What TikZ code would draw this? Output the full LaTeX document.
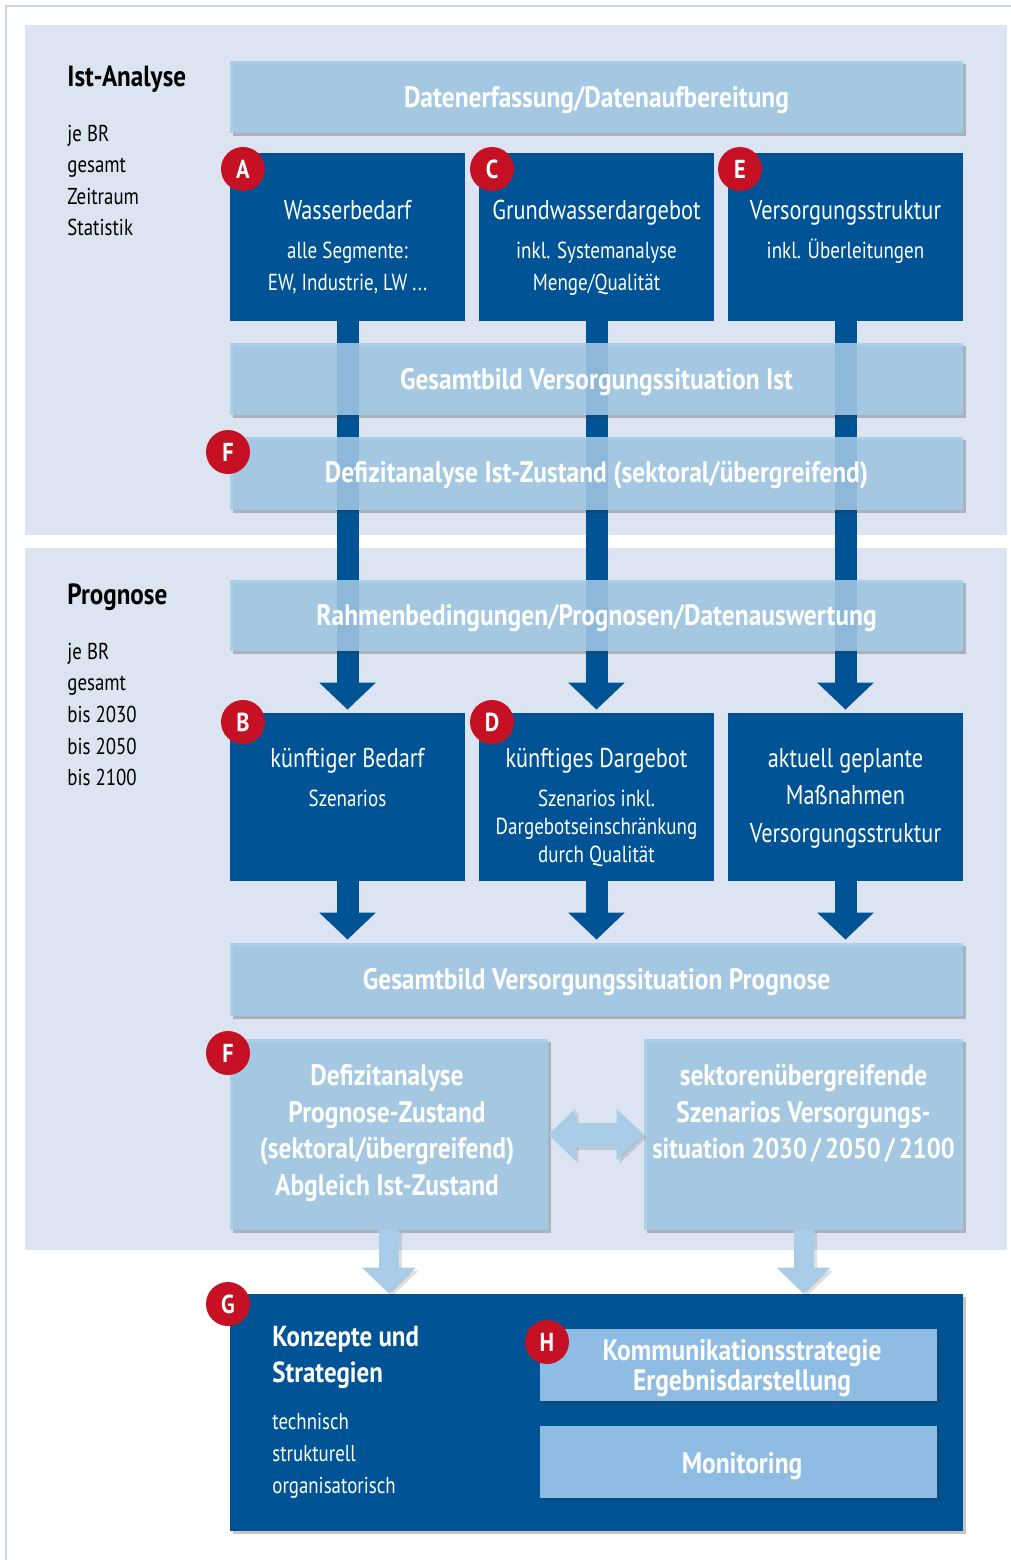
\documentclass[tikz,border=0pt]{standalone}
\usepackage{fontspec}
\setmainfont{PT Sans}[FakeStretch=0.82]
\newfontfamily\bcond{PT Sans}[FakeStretch=0.86]
\usetikzlibrary{arrows.meta,shadows}
\definecolor{secbg}{RGB}{220,228,242}
\definecolor{dblue}{RGB}{0,84,150}
\definecolor{lbox}{RGB}{163,203,233}
\definecolor{larrow}{RGB}{169,205,233}
\definecolor{hbox}{RGB}{143,188,226}
\definecolor{badgered}{RGB}{197,17,35}
\definecolor{rim}{RGB}{200,212,235}
\pgfdeclarelayer{back}
\pgfdeclarelayer{bars}
\pgfsetlayers{back,bars,main}
\begin{document}
\begin{tikzpicture}[x=0.5pt,y=-0.5pt,
  shadowed/.style={drop shadow={shadow xshift=1.5pt,shadow yshift=-1.5pt,opacity=0.28,fill=black!80}},
  darkbox/.style={fill=dblue,draw=none,inner sep=0,minimum width=117.5pt,minimum height=84pt},
  lightbox/.style={fill=lbox,fill opacity=0.86,draw=none,inner sep=0,shadowed},
  widebox/.style={lightbox,minimum width=366.5pt,minimum height=36pt},
  halfbox/.style={lightbox,minimum width=159pt,minimum height=95.5pt},
  innerbox/.style={fill=hbox,draw=none,inner sep=0,minimum width=198.5pt,minimum height=36pt,shadowed},
  badge/.style={circle,fill=badgered,draw=none,inner sep=0,minimum size=22pt,text=white,font=\bcond\bfseries\fontsize{13}{15}\selectfont},
  darkarrow/.style={draw=dblue,line width=11pt,-{Triangle[width=27.5pt,length=13.5pt]},shorten >=1.5pt},
  lightarrow/.style={draw=larrow,line width=10pt,-{Triangle[width=26pt,length=13pt]}},
  dblarrow/.style={draw=larrow,line width=12pt,{Triangle[width=25pt,length=13.5pt]}-{Triangle[width=25pt,length=13.5pt]}},
  arrowshadow/.style={draw=black,opacity=0.12,transform canvas={xshift=1.5pt,yshift=-1.5pt}},
  tbold/.style={anchor=base,inner sep=0,text=white,font=\bcond\bfseries\fontsize{14.8}{17}\selectfont},
  ttitle/.style={anchor=base,inner sep=0,text=white,font=\fontsize{13.6}{16}\selectfont},
  tsub/.style={anchor=base,inner sep=0,text=white,font=\fontsize{11.6}{13}\selectfont},
  lhead/.style={anchor=base west,inner sep=0,text=black,font=\bcond\bfseries\fontsize{14.6}{17}\selectfont},
  ltext/.style={anchor=base west,inner sep=0,text=black,font=\fontsize{11.5}{14}\selectfont},
  gsub/.style={anchor=base west,inner sep=0,text=white,font=\fontsize{11.5}{13}\selectfont},
  ghead/.style={anchor=base west,inner sep=0,text=white,font=\bcond\bfseries\fontsize{14.5}{16}\selectfont}
]
\useasboundingbox (0,0) rectangle (1011,1560);

% outer rim and section backgrounds
\begin{pgfonlayer}{back}
\fill[white] (0,0) rectangle (1011,1560);
\draw[rim,line width=1pt] (1011,6) -- (6,6) -- (6,1560);
\fill[secbg] (25,25) rectangle (1007,535);
\fill[secbg] (25,548) rectangle (1007,1250);
\end{pgfonlayer}

% left labels
\node[lhead] (ist) at (67,86) {Ist-Analyse};
\node[ltext] (i1) at (67,141) {je BR};
\node[ltext] (i2) at (67,172) {gesamt};
\node[ltext] (i3) at (67,204) {Zeitraum};
\node[ltext] (i4) at (67,235) {Statistik};
\node[lhead] (prog) at (67,604) {Prognose};
\node[ltext] (p1) at (67,659) {je BR};
\node[ltext] (p2) at (67,690) {gesamt};
\node[ltext] (p3) at (67,722) {bis 2030};
\node[ltext] (p4) at (67,754) {bis 2050};
\node[ltext] (p5) at (67,785) {bis 2100};

% dark boxes
\node[darkbox] (A) at (347.5,237) {};
\node[darkbox] (C) at (596.5,237) {};
\node[darkbox] (E) at (845.5,237) {};
\node[darkbox] (B) at (347.5,797) {};
\node[darkbox] (D) at (596.5,797) {};
\node[darkbox] (M) at (845.5,797) {};

% light boxes
\node[widebox] (hdr) at (596.5,97) {};
\node[widebox] (gi) at (596.5,379) {};
\node[widebox,minimum height=36.5pt] (fi) at (596.5,473.5) {};
\node[widebox,minimum height=35.5pt] (rp) at (596.5,615.5) {};
\node[widebox,minimum height=36.5pt] (gp) at (596.5,979.5) {};
\node[halfbox] (fl) at (389,1134.5) {};
\node[halfbox,minimum width=159.5pt] (fr) at (803.5,1134.5) {};

% dark arrows (behind the light boxes)
\begin{pgfonlayer}{bars}
\draw[darkarrow] (A.south) -- (B.north);
\draw[darkarrow] (C.south) -- (D.north);
\draw[darkarrow] (E.south) -- (M.north);
\draw[darkarrow] (B.south) -- (B.south |- gp.north);
\draw[darkarrow] (D.south) -- (D.south |- gp.north);
\draw[darkarrow] (M.south) -- (M.south |- gp.north);
\end{pgfonlayer}

% final box
\node[darkbox,minimum width=366.5pt,minimum height=118.5pt,shadowed] (G) at (596.5,1412.5) {};
\node[innerbox] (H) at (738.5,1365) {};
\node[innerbox] (Mon) at (738.5,1462) {};

% light arrows
\draw[lightarrow,arrowshadow] (fl.south) -- (fl.south |- G.north);
\draw[lightarrow,arrowshadow] (fr.south) -- (fr.south |- G.north);
\draw[dblarrow,arrowshadow] (fl.east) -- (fr.west);
\draw[lightarrow] (fl.south) -- (fl.south |- G.north);
\draw[lightarrow] (fr.south) -- (fr.south |- G.north);
\draw[dblarrow] (fl.east) -- (fr.west);

% texts
\node[tbold] (thdr) at (596.5,107) {Datenerfassung/Datenaufbereitung};
\node[ttitle] (ta1) at (347.5,219) {Wasserbedarf};
\node[tsub] (ta2) at (347.5,258) {alle Segmente:};
\node[tsub] (ta3) at (347.5,290) {EW, Industrie, LW ...};
\node[ttitle] (tc1) at (596.5,219) {Grundwasserdargebot};
\node[tsub] (tc2) at (596.5,258) {inkl. Systemanalyse};
\node[tsub] (tc3) at (596.5,290) {Menge/Qualität};
\node[ttitle] (te1) at (845.5,219) {Versorgungsstruktur};
\node[tsub] (te2) at (845.5,258) {inkl. Überleitungen};
\node[tbold] (tgi) at (596.5,389) {Gesamtbild Versorgungssituation Ist};
\node[tbold] (tfi) at (596.5,482) {Defizitanalyse Ist-Zustand (sektoral/übergreifend)};
\node[tbold] (trp) at (596.5,625) {Rahmenbedingungen/Prognosen/Datenauswertung};
\node[ttitle] (tb1) at (347.5,767) {künftiger Bedarf};
\node[tsub] (tb2) at (347.5,806) {Szenarios};
\node[ttitle] (td1) at (596.5,767) {künftiges Dargebot};
\node[tsub] (td2) at (596.5,806) {Szenarios inkl.};
\node[tsub] (td3) at (596.5,834) {Dargebotseinschränkung};
\node[tsub] (td4) at (596.5,862) {durch Qualität};
\node[ttitle] (tm1) at (845.5,767) {aktuell geplante};
\node[ttitle] (tm2) at (845.5,804) {Maßnahmen};
\node[ttitle] (tm3) at (845.5,842) {Versorgungsstruktur};
\node[tbold] (tgp) at (596.5,989) {Gesamtbild Versorgungssituation Prognose};
\node[tbold] (tl1) at (387,1085) {Defizitanalyse};
\node[tbold] (tl2) at (387,1122) {Prognose-Zustand};
\node[tbold] (tl3) at (387,1158) {(sektoral/übergreifend)};
\node[tbold] (tl4) at (387,1195) {Abgleich Ist-Zustand};
\node[tbold] (tr1) at (803.5,1085) {sektorenübergreifende};
\node[tbold] (tr2) at (803.5,1122) {Szenarios Versorgungs-};
\node[tbold,font=\bcond\bfseries\fontsize{14.3}{17}\selectfont] (tr3) at (803.5,1158) {situation 2030\hspace{2pt}/\hspace{2pt}2050\hspace{2pt}/\hspace{2pt}2100};
\node[ghead] (tg1) at (272,1346) {Konzepte und};
\node[ghead] (tg2) at (272,1382) {Strategien};
\node[gsub] (tg3) at (272,1429) {technisch};
\node[gsub] (tg4) at (272,1461) {strukturell};
\node[gsub] (tg5) at (272,1493) {organisatorisch};
\node[tbold] (th1) at (742,1360) {Kommunikationsstrategie};
\node[tbold] (th2) at (742,1390) {Ergebnisdarstellung};
\node[tbold] (tmo) at (742,1473) {Monitoring};

% badges
\node[badge] (bA) at (243,169) {A};
\node[badge] (bC) at (492,169) {C};
\node[badge] (bE) at (740,169) {E};
\node[badge] (bF1) at (228,452) {F};
\node[badge] (bB) at (243,722) {B};
\node[badge] (bD) at (492,722) {D};
\node[badge] (bF2) at (228,1053) {F};
\node[badge] (bG) at (228,1304) {G};
\node[badge] (bH) at (547,1342) {H};
\end{tikzpicture}
\end{document}
